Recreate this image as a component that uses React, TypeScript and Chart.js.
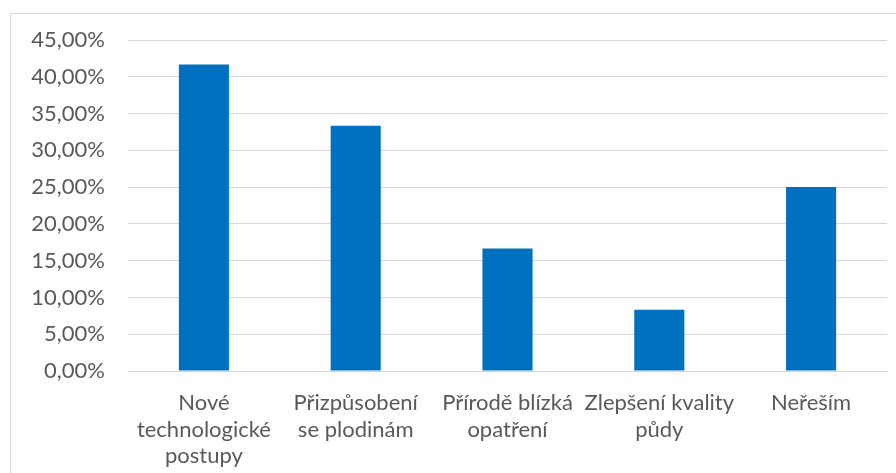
import React, { useEffect, useRef } from "react";
import { Chart, registerables } from "chart.js";

Chart.register(...registerables);

const categories: string[][] = [
  ["Nové", "technologické", "postupy"],
  ["Přizpůsobení", "se plodinám"],
  ["Přírodě blízká", "opatření"],
  ["Zlepšení kvality", "půdy"],
  ["Neřeším"],
];
const values: number[] = [41.67, 33.33, 16.67, 8.33, 25.0];
const yMax = 45;
const yStep = 5;

const FONT = "Lato, 'Open Sans', sans-serif";

export default function App() {
  const ref = useRef<HTMLCanvasElement | null>(null);
  useEffect(() => {
    if (!ref.current) return;
    const chart = new Chart(ref.current, {
      type: "bar",
      data: {
        labels: categories,
        datasets: [
          {
            data: values,
            backgroundColor: "#0070C0",
            borderWidth: 0,
            categoryPercentage: 1,
            barPercentage: 0.33,
          },
        ],
      },
      options: {
        responsive: false,
        animation: false,
        layout: { padding: { left: 0, top: 40, right: 9, bottom: 0 } },
        plugins: { legend: { display: false }, tooltip: { enabled: false } },
        scales: {
          x: {
            grid: { display: false, drawTicks: false },
            border: { display: true, color: "#d9d9d9", width: 1 },
            ticks: {
              color: "#595959",
              font: { family: FONT, size: 22, lineHeight: 1.205 },
              padding: 19,
              maxRotation: 0,
              autoSkip: false,
            },
            afterFit: (s: any) => {
              s.height = 102;
            },
          },
          y: {
            min: 0,
            max: yMax,
            grid: { color: "#d9d9d9", lineWidth: 1, drawTicks: false },
            border: { display: false },
            ticks: {
              stepSize: yStep,
              color: "#595959",
              font: { family: FONT, size: 22 },
              padding: 23,
              callback: (v: any) => Number(v).toFixed(2).replace(".", ",") + "%",
            },
            afterFit: (s: any) => {
              s.width = 128;
            },
          },
        },
      },
    });
    return () => chart.destroy();
  }, []);
  return (
    <div style={{ position: "fixed", left: 0, top: 0, width: 896, height: 473, overflow: "hidden", background: "#fff" }}>
      <div
        style={{
          position: "absolute",
          left: 10,
          top: 13,
          width: 920,
          height: 500,
          border: "1px solid #d9d9d9",
          boxSizing: "border-box",
        }}
      />
      <canvas ref={ref} width={896} height={473} style={{ position: "absolute", left: 0, top: 0, width: 896, height: 473 }} />
    </div>
  );
}
